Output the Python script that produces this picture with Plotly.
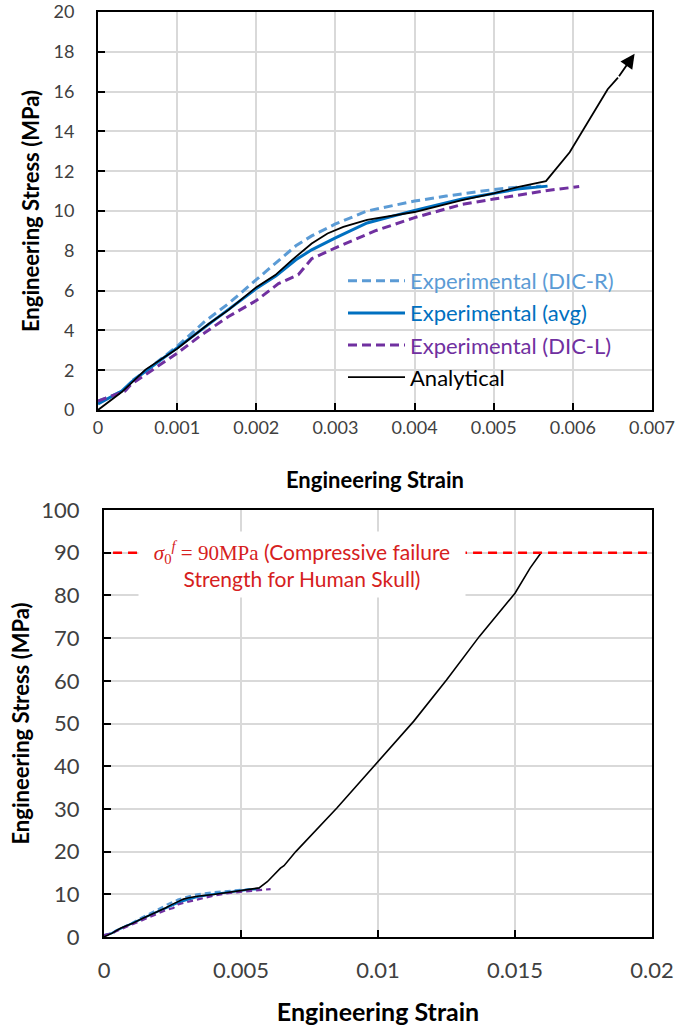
import plotly.graph_objects as go

# ---------------- data ----------------
dicr_strain = [0, 0.00017, 0.00036, 0.00042, 0.0006, 0.001, 0.00135, 0.00165, 0.002, 0.00228,
               0.0025, 0.0027, 0.003, 0.0034, 0.004, 0.0044, 0.005, 0.0053, 0.0056]
dicr_stress = [0.45, 0.7, 1.05, 1.45, 1.95, 3.2, 4.45, 5.35, 6.55, 7.5,
               8.25, 8.75, 9.35, 10.0, 10.5, 10.75, 11.08, 11.2, 11.25]

avg_strain = [0, 0.0003, 0.00042, 0.0006, 0.001, 0.0014, 0.00165, 0.002, 0.00225, 0.0025,
              0.0027, 0.0029, 0.003, 0.0034, 0.004, 0.0046, 0.005, 0.0053, 0.00568]
avg_stress = [0.3, 0.95, 1.4, 1.95, 3.12, 4.3, 5.05, 6.1, 6.75, 7.55,
              8.05, 8.45, 8.65, 9.4, 10.03, 10.6, 10.9, 11.1, 11.25]

dicl_strain = [0, 0.00034, 0.00042, 0.00072, 0.001, 0.0013, 0.00165, 0.002, 0.00228, 0.00253,
               0.0027, 0.003, 0.0035, 0.004, 0.0046, 0.005, 0.0054, 0.00568, 0.00608]
dicl_stress = [0.45, 0.95, 1.3, 2.1, 2.85, 3.75, 4.7, 5.5, 6.35, 6.8,
               7.6, 8.15, 9.0, 9.67, 10.33, 10.6, 10.85, 11.03, 11.23]

analytical_strain = [0, 0.0003, 0.0006, 0.001, 0.0014, 0.00165, 0.002, 0.00224, 0.00245, 0.0027,
                     0.0029, 0.0031, 0.0034, 0.004, 0.0046, 0.005, 0.0053, 0.00566, 0.00596, 0.00615,
                     0.00644, 0.00657, 0.007, 0.0085, 0.0099, 0.0113, 0.0125, 0.0137, 0.015, 0.01555,
                     0.01595]
analytical_stress = [0, 0.9, 2.03, 3.08, 4.33, 5.03, 6.17, 6.78, 7.53, 8.37,
                     8.87, 9.2, 9.55, 9.95, 10.55, 10.88, 11.2, 11.5, 12.95, 14.2,
                     16.12, 16.7, 20.0, 30.2, 40.3, 50.5, 60.2, 70.4, 80.5, 86.4,
                     90.0]
top_analytical_count = 22          # points of the analytical curve shown in the top panel
arrow_tip = (0.00678, 17.9)        # arrow head continuing the analytical curve

failure_stress = 90
failure_strain_range = [0.00033, 0.02]

top_x_ticks = [0, 0.001, 0.002, 0.003, 0.004, 0.005, 0.006, 0.007]
top_x_labels = ["0", "0.001", "0.002", "0.003", "0.004", "0.005", "0.006", "0.007"]
top_y_ticks = [0, 2, 4, 6, 8, 10, 12, 14, 16, 18, 20]
bot_x_ticks = [0, 0.005, 0.01, 0.015, 0.02]
bot_x_labels = ["0", "0.005", "0.01", "0.015", "0.02"]
bot_y_ticks = [0, 10, 20, 30, 40, 50, 60, 70, 80, 90, 100]

# ---------------- style ----------------
FONT = "Lato"
C_R = "#5B9BD5"
C_AVG = "#0070C0"
C_L = "#7030A0"
GRID = "#D9D9D9"
TICKC = "#404040"

W, H = 682, 1033
def px_x(p): return p / W
def px_y(p): return 1 - p / H

fig = go.Figure()

def add_set(xa, ya, show, wexp, wana, dash, ana_n):
    fig.add_trace(go.Scatter(x=dicr_strain, y=dicr_stress, mode="lines", xaxis=xa, yaxis=ya,
                             name=f"<span style='color:{C_R}'>Experimental (DIC-R)</span>",
                             legendgroup="r", showlegend=show,
                             line=dict(color=C_R, width=wexp, dash=dash)))
    fig.add_trace(go.Scatter(x=avg_strain, y=avg_stress, mode="lines", xaxis=xa, yaxis=ya,
                             name=f"<span style='color:{C_AVG}'>Experimental (avg)</span>",
                             legendgroup="avg", showlegend=show,
                             line=dict(color=C_AVG, width=wexp)))
    fig.add_trace(go.Scatter(x=dicl_strain, y=dicl_stress, mode="lines", xaxis=xa, yaxis=ya,
                             name=f"<span style='color:{C_L}'>Experimental (DIC-L)</span>",
                             legendgroup="l", showlegend=show,
                             line=dict(color=C_L, width=wexp, dash=dash)))
    fig.add_trace(go.Scatter(x=analytical_strain[:ana_n], y=analytical_stress[:ana_n], mode="lines",
                             xaxis=xa, yaxis=ya,
                             name="<span style='color:#000000'>Analytical</span>",
                             legendgroup="ana", showlegend=show,
                             line=dict(color="black", width=wana)))

add_set("x", "y", True, 3, 1.8, "9px,5px", top_analytical_count)
add_set("x2", "y2", False, 2.2, 1.6, "6px,4px", len(analytical_strain))

# failure strength line (bottom panel)
fig.add_trace(go.Scatter(x=failure_strain_range, y=[failure_stress] * 2, mode="lines",
                         xaxis="x2", yaxis="y2", showlegend=False, cliponaxis=False,
                         line=dict(color="#FF0000", width=2.5, dash="9px,6px")))

axis_common = dict(showline=True, linecolor="black", linewidth=2, mirror=True,
                   ticks="inside", ticklen=7, tickwidth=2, tickcolor="black",
                   showgrid=True, gridcolor=GRID, zeroline=False, automargin=False,
                   ticklabeloverflow="allow")

fig.update_layout(
    width=W, height=H, margin=dict(l=0, r=0, t=0, b=0, autoexpand=False),
    paper_bgcolor="white", plot_bgcolor="white",
    font=dict(family=FONT, color=TICKC),
    showlegend=True,
    legend=dict(x=px_x(343), y=px_y(260), xanchor="left", yanchor="top",
                bgcolor="rgba(0,0,0,0)", font=dict(family=FONT, size=22),
                itemwidth=57, tracegroupgap=0.5, traceorder="grouped"),
    xaxis=dict(domain=[px_x(98), px_x(652)], anchor="y", range=[0, 0.007],
               tickvals=top_x_ticks, ticktext=top_x_labels,
               tickfont=dict(size=18, color=TICKC),
               title=dict(text="<b>Engineering Strain</b>", font=dict(size=22, color="black"),
                          standoff=36),
               gridwidth=2, **axis_common),
    yaxis=dict(domain=[px_y(410), px_y(12)], anchor="x", range=[0, 20],
               tickvals=top_y_ticks, tickfont=dict(size=18, color=TICKC),
               ticklabelstandoff=18,
               title=dict(text="<b>Engineering Stress (MPa)</b>", font=dict(size=22, color="black"),
                          standoff=8),
               gridwidth=2, **axis_common),
    xaxis2=dict(domain=[px_x(104), px_x(652)], anchor="y2", range=[0, 0.02],
                tickvals=bot_x_ticks, ticktext=bot_x_labels,
                tickfont=dict(size=22, color=TICKC), ticklabelstandoff=13,
                title=dict(text="<b>Engineering Strain</b>", font=dict(size=25, color="black"),
                           standoff=21),
                gridwidth=1.5, **axis_common),
    yaxis2=dict(domain=[px_y(937), px_y(510)], anchor="x2", range=[0, 100],
                tickvals=bot_y_ticks, tickfont=dict(size=22, color=TICKC),
                ticklabelstandoff=18,
                title=dict(text="<b>Engineering Stress (MPa)</b>", font=dict(size=22, color="black"),
                           standoff=6),
                gridwidth=1.5, **axis_common),
)

# arrow continuing the analytical curve (top panel)
fig.add_annotation(x=arrow_tip[0], y=arrow_tip[1], xref="x", yref="y",
                   ax=analytical_strain[top_analytical_count - 1],
                   ay=analytical_stress[top_analytical_count - 1],
                   axref="x", ayref="y", text="", showarrow=True,
                   arrowhead=2, arrowsize=1.6, arrowwidth=1.8, arrowcolor="black")

# failure strength label (bottom panel)
fig.add_annotation(x=0.00723, y=failure_stress, xref="x2", yref="y2",
                   yanchor="top", yshift=22,
                   text="<span style='font-family:\"Liberation Serif\"'><i>σ</i><sub>0</sub>"
                        "<sup><i>f</i></sup> = 90MPa</span> (Compressive failure<br>"
                        "Strength for Human Skull)",
                   showarrow=False, bgcolor="white", width=314, borderpad=6, align="center",
                   font=dict(family=FONT, size=21, color="#D62020"))

fig.write_html("out.html", post_script="document.body.style.margin='0';",
               config={"displayModeBar": False})
